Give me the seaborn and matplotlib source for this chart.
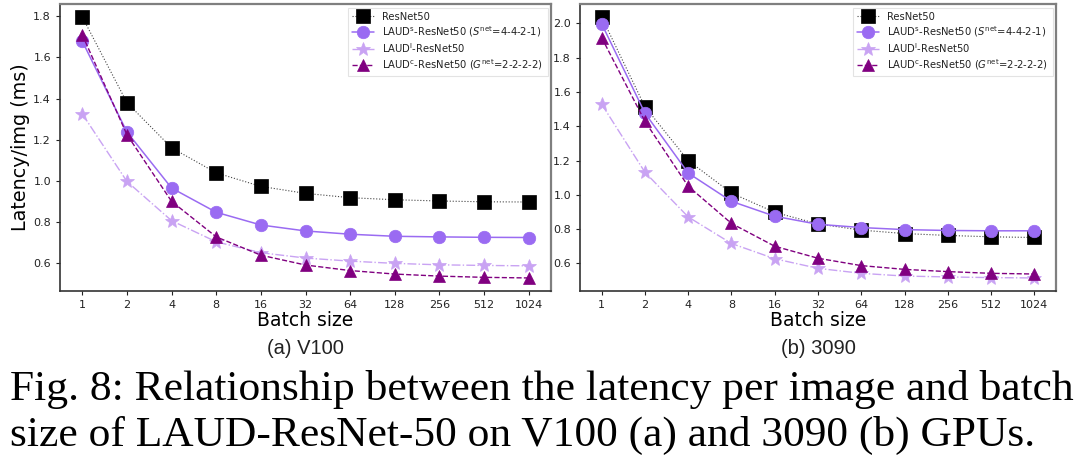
import numpy as np
import pandas as pd
import seaborn as sns
import matplotlib
matplotlib.use("Agg")
import matplotlib.pyplot as plt
from matplotlib.ticker import NullLocator

# ---------------- data ----------------
batch_sizes = [1, 2, 4, 8, 16, 32, 64, 128, 256, 512, 1024]
batch_labels = ["1", "2", "4", "8", "16", "32", "64", "128", "256", "512", "1024"]

# (a) V100
v100_resnet = [1.797, 1.380, 1.160, 1.038, 0.972, 0.938, 0.917, 0.907, 0.901, 0.897, 0.896]
v100_laud_s = [1.679, 1.237, 0.964, 0.846, 0.784, 0.755, 0.739, 0.729, 0.726, 0.724, 0.723]
v100_laud_l = [1.325, 0.996, 0.805, 0.702, 0.649, 0.623, 0.608, 0.597, 0.590, 0.587, 0.585]
v100_laud_c = [1.710, 1.224, 0.899, 0.726, 0.637, 0.589, 0.562, 0.545, 0.535, 0.529, 0.526]

# (b) 3090
rtx_resnet = [2.037, 1.514, 1.200, 1.010, 0.898, 0.830, 0.794, 0.774, 0.763, 0.755, 0.751]
rtx_laud_s = [1.998, 1.477, 1.127, 0.962, 0.875, 0.828, 0.809, 0.797, 0.792, 0.790, 0.790]
rtx_laud_l = [1.529, 1.132, 0.871, 0.716, 0.627, 0.571, 0.542, 0.526, 0.521, 0.517, 0.515]
rtx_laud_c = [1.917, 1.429, 1.050, 0.833, 0.700, 0.630, 0.587, 0.565, 0.552, 0.542, 0.538]

series_labels = [
    "ResNet50",
    r"LAUD$^{\mathrm{s}}$-ResNet50 ($S^{\mathrm{net}}$=4-4-2-1)",
    r"LAUD$^{\mathrm{l}}$-ResNet50",
    r"LAUD$^{\mathrm{c}}$-ResNet50 ($G^{\mathrm{net}}$=2-2-2-2)",
]
panel_titles = ["(a) V100", "(b) 3090"]
x_label = "Batch size"
y_label = "Latency/img (ms)"
caption_lines = [
    "Fig. 8: Relationship between the latency per image and batch",
    "size of LAUD-ResNet-50 on V100 (a) and 3090 (b) GPUs.",
]

# ---------------- style ----------------
sns.set_style("ticks")
plt.rcParams["font.family"] = ["DejaVu Sans"]
plt.rcParams["mathtext.fontset"] = "dejavusans"

styles = [
    dict(color="#000000", marker="s", linestyle=":", markersize=10, linewidth=0.8, line_color="#444444"),
    dict(color="#9a6bf2", marker="o", linestyle="-", markersize=9, linewidth=1.1, line_color="#9a6bf2"),
    dict(color="#c9a3f3", marker="*", linestyle="-.", markersize=10.5, linewidth=1.0, line_color="#c9a3f3"),
    dict(color="#800080", marker="^", linestyle="--", markersize=9, linewidth=1.0, line_color="#800080"),
]

fig = plt.figure(figsize=(10.8, 4.65), dpi=100)
W, H = 1080.0, 465.0
ax_a = fig.add_axes([60 / W, (H - 291) / H, 491 / W, 287 / H])
ax_b = fig.add_axes([580 / W, (H - 291) / H, 476 / W, 287 / H])

panels = [
    (ax_a, [v100_resnet, v100_laud_s, v100_laud_l, v100_laud_c]),
    (ax_b, [rtx_resnet, rtx_laud_s, rtx_laud_l, rtx_laud_c]),
]

for i, (ax, data) in enumerate(panels):
    ax.set_xscale("log", base=2)
    for vals, lab, st in zip(data, series_labels, styles):
        df = pd.DataFrame({"batch": batch_sizes, "lat": vals})
        sns.lineplot(
            data=df, x="batch", y="lat", ax=ax, label=lab,
            color=st["line_color"], linestyle=st["linestyle"], linewidth=st["linewidth"],
            marker=st["marker"], markersize=st["markersize"],
            markerfacecolor=st["color"], markeredgecolor=st["color"], markeredgewidth=0.5,
        )
    ax.set_xticks(batch_sizes)
    ax.set_xticklabels(batch_labels)
    ax.xaxis.set_minor_locator(NullLocator())
    ax.tick_params(axis="both", labelsize=8, length=3, width=0.8, colors="#222222")
    ax.set_xlabel(x_label, fontsize=13.5, labelpad=1, color="black")
    if i == 0:
        ax.set_ylabel(y_label, fontsize=13.8, labelpad=2, color="black")
    else:
        ax.set_ylabel("")
    for side in ["left", "bottom"]:
        ax.spines[side].set_color("#333333")
        ax.spines[side].set_linewidth(1.2)
    for side in ["top", "right"]:
        ax.spines[side].set_color("#7f7f7f")
        ax.spines[side].set_linewidth(1.6)
    leg = ax.legend(loc="upper right", fontsize=7.2, frameon=True, borderaxespad=0.35,
                    handlelength=2.2, labelspacing=0.22, borderpad=0.4, fancybox=False)
    leg.get_frame().set_edgecolor("#dddddd")
    leg.get_frame().set_linewidth(0.8)
    for t in leg.get_texts():
        t.set_color("#222222")

# panel sub-captions
fig.text(305 / W, 1 - 348 / H, panel_titles[0], ha="center", va="center",
         fontsize=14.5, color="#222222", family=["Liberation Sans", "DejaVu Sans"])
fig.text(818 / W, 1 - 348 / H, panel_titles[1], ha="center", va="center",
         fontsize=14.5, color="#222222", family=["Liberation Sans", "DejaVu Sans"])

# figure caption
fig.text(10 / W, 1 - 389 / H, caption_lines[0], ha="left", va="center",
         fontsize=31.3, color="black", family=["Liberation Serif", "DejaVu Serif"])
fig.text(10 / W, 1 - 435 / H, caption_lines[1], ha="left", va="center",
         fontsize=31.3, color="black", family=["Liberation Serif", "DejaVu Serif"])

fig.savefig("out.png", dpi=100, facecolor="white")
